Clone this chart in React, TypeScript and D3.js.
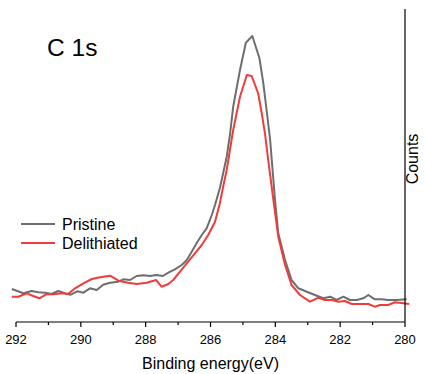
import React from "react";
import * as d3 from "d3";

const energyP = [292.13,291.77,291.52,291.31,291.11,290.9,290.7,290.49,290.31,290.11,289.92,289.72,289.51,289.31,289.1,288.84,288.69,288.48,288.28,288.07,287.87,287.66,287.47,287.3,287.1,286.89,286.73,286.58,286.43,286.27,286.12,285.96,285.86,285.71,285.61,285.5,285.4,285.3,285.09,284.91,284.71,284.49,284.37,284.27,284.16,284.11,284.01,283.91,283.7,283.5,283.29,283.03,282.78,282.52,282.31,282.11,281.9,281.7,281.49,281.29,281.13,280.93,280.72,280.52,280.26,279.95];
const countsP = [330,287,310,297,293,280,310,287,273,307,293,337,320,373,393,403,427,420,460,467,460,470,460,493,527,570,620,703,787,870,937,1070,1170,1340,1487,1653,1870,2153,2520,2793,2860,2637,2387,2120,1820,1620,1220,887,620,420,337,303,270,237,253,220,253,220,220,237,270,227,227,220,220,227];

const energyD = [292.13,291.93,291.67,291.47,291.28,291.07,290.85,290.59,290.39,290.18,289.92,289.66,289.41,289.1,288.84,288.54,288.28,287.97,287.68,287.51,287.3,287.15,286.94,286.69,286.48,286.27,286.07,285.86,285.71,285.61,285.5,285.4,285.3,285.09,284.88,284.73,284.53,284.42,284.32,284.22,284.06,283.91,283.7,283.5,283.24,282.93,282.67,282.47,282.26,282.06,281.85,281.64,281.39,281.13,280.93,280.77,280.52,280.31,280.05,279.87];
const countsD = [253,253,287,260,237,277,277,287,280,337,387,430,447,463,413,393,380,393,420,353,380,420,503,603,687,770,870,1003,1187,1353,1520,1720,1920,2253,2470,2460,2287,2087,1887,1620,1220,853,570,370,270,203,243,220,220,203,210,180,180,180,153,170,170,197,187,180];

const majorTicks = [292, 290, 288, 286, 284, 282, 280];
const minorTicks = [291, 289, 287, 285, 283, 281];
const seriesNames = ["Pristine", "Delithiated"];
const seriesColors = ["#6e6e6e", "#f23b3b"];

export default function App() {
  const W = 425, H = 374;
  const left = 16, right = 405, top = 9, bottom = 322;
  const x = d3.scaleLinear().domain([292, 280]).range([left, right]);
  const y = d3.scaleLinear().domain([0, 3130]).range([bottom, top]);
  const line = d3.line<[number, number]>().x(d => x(d[0])).y(d => y(d[1]));
  const dataP = energyP.map((e, i) => [e, countsP[i]] as [number, number]);
  const dataD = energyD.map((e, i) => [e, countsD[i]] as [number, number]);
  const font = "'Liberation Sans', Arial, sans-serif";
  return (
    <svg width={W} height={H} style={{ position: "absolute", left: 0, top: 0, background: "#fff" }} fontFamily={font}>
      <path d={line(dataP) || ""} fill="none" stroke={seriesColors[0]} strokeWidth={2} strokeLinejoin="round" />
      <path d={line(dataD) || ""} fill="none" stroke={seriesColors[1]} strokeWidth={2} strokeLinejoin="round" />
      <line x1={left} x2={right} y1={bottom} y2={bottom} stroke="#000" strokeWidth={1.2} />
      <line x1={right} x2={right} y1={top} y2={bottom} stroke="#000" strokeWidth={1.2} />
      {majorTicks.map(t => (
        <g key={"M" + t}>
          <line x1={x(t)} x2={x(t)} y1={bottom} y2={bottom + 5} stroke="#000" strokeWidth={1.2} />
          <text x={x(t)} y={344} textAnchor="middle" fontSize={13} fill="#000">{t}</text>
        </g>
      ))}
      {minorTicks.map(t => (
        <line key={"m" + t} x1={x(t)} x2={x(t)} y1={bottom} y2={bottom + 3} stroke="#000" strokeWidth={1.2} />
      ))}
      <text x={(left + right) / 2} y={369} textAnchor="middle" fontSize={16} fill="#000">Binding energy(eV)</text>
      <text transform={`translate(418,159) rotate(-90)`} textAnchor="middle" fontSize={16} fill="#000">Counts</text>
      <text x={47} y={56} fontSize={24.5} fill="#000">C 1s</text>
      {seriesNames.map((n, i) => (
        <g key={n}>
          <line x1={21} x2={55} y1={224 + i * 19} y2={224 + i * 19} stroke={seriesColors[i]} strokeWidth={2} />
          <text x={62} y={229.5 + i * 19} fontSize={16} fill="#000">{n}</text>
        </g>
      ))}
    </svg>
  );
}
